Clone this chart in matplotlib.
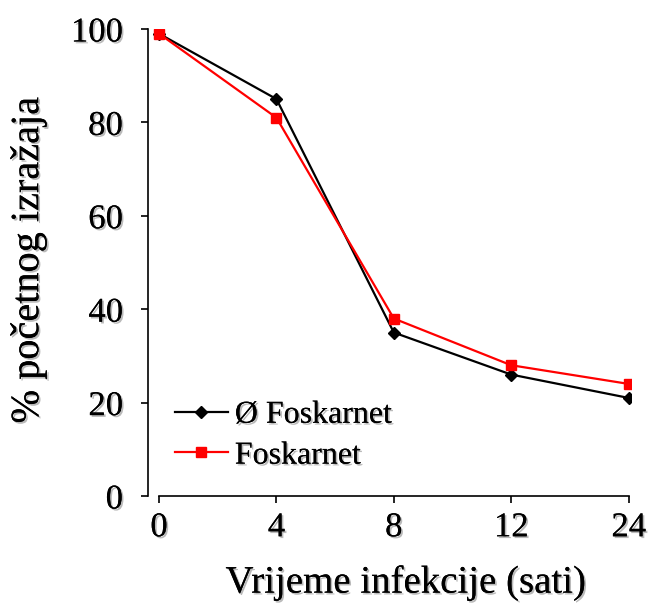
import numpy as np
import matplotlib
matplotlib.use("Agg")
import matplotlib.pyplot as plt
import matplotlib.patheffects as pe

hours = ["0", "4", "8", "12", "24"]
bez_foskarneta = [99, 85, 35, 26, 21]
foskarnet = [99, 81, 38, 28, 24]

plt.rcParams['font.family'] = ['Liberation Serif', 'DejaVu Serif']
shadow = [pe.withSimplePatchShadow(offset=(1.3, -1.3), shadow_rgbFace='0.55', alpha=0.6), pe.Normal()]

fig = plt.figure(figsize=(6.51, 6.06), dpi=100)
ax = fig.add_axes([148 / 651, 1 - 496 / 606, (631 - 148) / 651, (496 - 29) / 606])

x = np.arange(len(hours))
ax.plot(x, bez_foskarneta, color='black', lw=1.6, marker='D', ms=6, label='Ø Foskarnet')
ax.plot(x, foskarnet, color='red', lw=1.6, marker='s', ms=6.5, label='Foskarnet')

ax.set_xlim(-0.094, 4.02)
ax.set_ylim(0, 100)
ax.set_yticks([0, 20, 40, 60, 80, 100])
ax.set_xticks(x)
ax.set_xticklabels(hours)
ax.spines['top'].set_visible(False)
ax.spines['right'].set_visible(False)
ax.spines['bottom'].set_bounds(0, 4)
for s in ('left', 'bottom'):
    ax.spines[s].set_linewidth(1.2)
ax.tick_params(direction='out', length=5, width=1.2, labelsize=25)
ax.tick_params(axis='y', pad=13)
ax.tick_params(axis='x', pad=6)

for lab in ax.get_xticklabels() + ax.get_yticklabels():
    lab.set_path_effects(shadow)

ax.set_xlabel('Vrijeme infekcije (sati)', fontsize=28, path_effects=shadow, va='center')
ax.xaxis.set_label_coords(0.534, -0.186)
ax.set_ylabel('% početnog izražaja', fontsize=29, path_effects=shadow, va='center')
ax.yaxis.set_label_coords(-0.248, 0.505)

leg = ax.legend(loc='lower left', bbox_to_anchor=(0.029, 0.027), frameon=False, fontsize=23,
                handlelength=1.66, handletextpad=0.22, labelspacing=0.36, borderaxespad=0)
for t in leg.get_texts():
    t.set_path_effects(shadow)

fig.savefig('out.png', dpi=100)
